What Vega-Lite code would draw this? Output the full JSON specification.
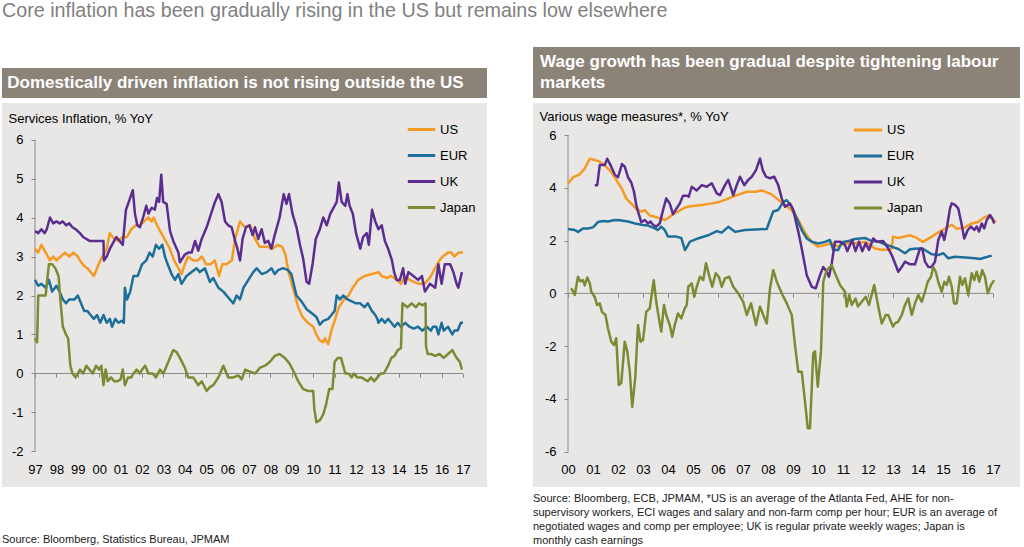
{
"$schema": "https://vega.github.io/schema/vega-lite/v6.json",
"background": "white",
"padding": {"left": 2, "top": 1, "right": 0, "bottom": 0},
"title": {"text": "Core inflation has been gradually rising in the US but remains low elsewhere", "anchor": "start", "fontSize": 19.7, "font": "Liberation Sans, Arial, sans-serif", "fontWeight": "normal", "color": "#7f7f7f", "offset": 26},
"config": {"view": {"stroke": null}, "axis": {"labelFont": "Liberation Sans", "labelFontSize": 13, "labelColor": "#000", "tickColor": "#8a8a8a", "domainColor": "#8a8a8a", "grid": false, "titleFont": "Liberation Sans"}, "legend": {"labelFont": "Liberation Sans"}},
"spacing": 5,
"resolve": {"scale": {"color": "independent", "x": "independent", "y": "independent"}, "legend": {"color": "independent"}},
"datasets": {
"L": [
{"s":"US","t":1997.0,"v":3.2},{"s":"US","t":1997.15,"v":3.1},{"s":"US","t":1997.3,"v":3.3},{"s":"US","t":1997.5,"v":3.1},{"s":"US","t":1997.7,"v":2.9},{"s":"US","t":1997.85,"v":3.0},{"s":"US","t":1998.0,"v":2.9},{"s":"US","t":1998.2,"v":3.0},{"s":"US","t":1998.4,"v":3.1},{"s":"US","t":1998.6,"v":3.0},{"s":"US","t":1998.8,"v":3.1},{"s":"US","t":1999.0,"v":3.0},{"s":"US","t":1999.1,"v":2.9},{"s":"US","t":1999.3,"v":2.75},{"s":"US","t":1999.45,"v":2.7},{"s":"US","t":1999.6,"v":2.6},{"s":"US","t":1999.75,"v":2.5},{"s":"US","t":1999.9,"v":2.7},{"s":"US","t":2000.05,"v":2.9},{"s":"US","t":2000.2,"v":3.05},{"s":"US","t":2000.35,"v":3.2},{"s":"US","t":2000.5,"v":3.6},{"s":"US","t":2000.7,"v":3.45},{"s":"US","t":2000.9,"v":3.4},{"s":"US","t":2001.1,"v":3.5},{"s":"US","t":2001.3,"v":3.5},{"s":"US","t":2001.5,"v":3.7},{"s":"US","t":2001.7,"v":3.8},{"s":"US","t":2001.9,"v":3.8},{"s":"US","t":2002.1,"v":3.9},{"s":"US","t":2002.3,"v":4.0},{"s":"US","t":2002.45,"v":3.9},{"s":"US","t":2002.55,"v":4.0},{"s":"US","t":2002.7,"v":3.8},{"s":"US","t":2002.9,"v":3.6},{"s":"US","t":2003.1,"v":3.4},{"s":"US","t":2003.3,"v":3.2},{"s":"US","t":2003.5,"v":2.9},{"s":"US","t":2003.7,"v":2.7},{"s":"US","t":2003.85,"v":2.55},{"s":"US","t":2004.0,"v":2.8},{"s":"US","t":2004.15,"v":3.0},{"s":"US","t":2004.4,"v":2.9},{"s":"US","t":2004.6,"v":2.9},{"s":"US","t":2004.8,"v":3.0},{"s":"US","t":2005.0,"v":2.8},{"s":"US","t":2005.2,"v":2.8},{"s":"US","t":2005.4,"v":2.9},{"s":"US","t":2005.6,"v":2.5},{"s":"US","t":2005.75,"v":2.8},{"s":"US","t":2005.95,"v":2.8},{"s":"US","t":2006.2,"v":2.9},{"s":"US","t":2006.35,"v":3.45},{"s":"US","t":2006.58,"v":3.9},{"s":"US","t":2006.8,"v":3.75},{"s":"US","t":2007.05,"v":3.8},{"s":"US","t":2007.28,"v":3.45},{"s":"US","t":2007.5,"v":3.25},{"s":"US","t":2007.85,"v":3.25},{"s":"US","t":2008.1,"v":3.2},{"s":"US","t":2008.35,"v":3.3},{"s":"US","t":2008.55,"v":3.25},{"s":"US","t":2008.7,"v":3.05},{"s":"US","t":2008.85,"v":2.6},{"s":"US","t":2009.05,"v":2.2},{"s":"US","t":2009.3,"v":1.7},{"s":"US","t":2009.5,"v":1.45},{"s":"US","t":2009.75,"v":1.3},{"s":"US","t":2010.0,"v":1.2},{"s":"US","t":2010.15,"v":1.0},{"s":"US","t":2010.3,"v":0.85},{"s":"US","t":2010.45,"v":0.8},{"s":"US","t":2010.55,"v":0.9},{"s":"US","t":2010.7,"v":0.75},{"s":"US","t":2010.85,"v":1.1},{"s":"US","t":2011.0,"v":1.35},{"s":"US","t":2011.2,"v":1.7},{"s":"US","t":2011.45,"v":1.9},{"s":"US","t":2011.65,"v":2.0},{"s":"US","t":2011.85,"v":2.2},{"s":"US","t":2012.1,"v":2.4},{"s":"US","t":2012.4,"v":2.5},{"s":"US","t":2012.75,"v":2.55},{"s":"US","t":2013.05,"v":2.6},{"s":"US","t":2013.2,"v":2.5},{"s":"US","t":2013.45,"v":2.45},{"s":"US","t":2013.65,"v":2.5},{"s":"US","t":2013.9,"v":2.4},{"s":"US","t":2014.1,"v":2.3},{"s":"US","t":2014.3,"v":2.5},{"s":"US","t":2014.5,"v":2.4},{"s":"US","t":2014.7,"v":2.35},{"s":"US","t":2014.95,"v":2.3},{"s":"US","t":2015.2,"v":2.3},{"s":"US","t":2015.45,"v":2.45},{"s":"US","t":2015.7,"v":2.7},{"s":"US","t":2015.9,"v":2.9},{"s":"US","t":2016.05,"v":3.0},{"s":"US","t":2016.3,"v":3.1},{"s":"US","t":2016.45,"v":3.1},{"s":"US","t":2016.6,"v":3.0},{"s":"US","t":2016.8,"v":3.1},{"s":"US","t":2017.0,"v":3.1},
{"s":"EUR","t":1997.0,"v":2.4},{"s":"EUR","t":1997.15,"v":2.25},{"s":"EUR","t":1997.3,"v":2.3},{"s":"EUR","t":1997.5,"v":2.2},{"s":"EUR","t":1997.65,"v":2.4},{"s":"EUR","t":1997.8,"v":2.1},{"s":"EUR","t":1998.0,"v":2.25},{"s":"EUR","t":1998.15,"v":2.1},{"s":"EUR","t":1998.3,"v":1.9},{"s":"EUR","t":1998.45,"v":1.8},{"s":"EUR","t":1998.6,"v":1.9},{"s":"EUR","t":1998.85,"v":1.9},{"s":"EUR","t":1999.0,"v":2.0},{"s":"EUR","t":1999.15,"v":1.8},{"s":"EUR","t":1999.3,"v":1.6},{"s":"EUR","t":1999.45,"v":1.6},{"s":"EUR","t":1999.6,"v":1.5},{"s":"EUR","t":1999.75,"v":1.4},{"s":"EUR","t":1999.9,"v":1.5},{"s":"EUR","t":2000.05,"v":1.3},{"s":"EUR","t":2000.2,"v":1.5},{"s":"EUR","t":2000.35,"v":1.3},{"s":"EUR","t":2000.5,"v":1.4},{"s":"EUR","t":2000.6,"v":1.2},{"s":"EUR","t":2000.75,"v":1.4},{"s":"EUR","t":2000.9,"v":1.3},{"s":"EUR","t":2001.05,"v":1.35},{"s":"EUR","t":2001.15,"v":1.3},{"s":"EUR","t":2001.2,"v":2.2},{"s":"EUR","t":2001.3,"v":1.9},{"s":"EUR","t":2001.45,"v":2.1},{"s":"EUR","t":2001.6,"v":2.5},{"s":"EUR","t":2001.8,"v":2.5},{"s":"EUR","t":2002.0,"v":2.8},{"s":"EUR","t":2002.2,"v":2.9},{"s":"EUR","t":2002.35,"v":3.1},{"s":"EUR","t":2002.5,"v":3.0},{"s":"EUR","t":2002.65,"v":3.3},{"s":"EUR","t":2002.8,"v":3.2},{"s":"EUR","t":2002.95,"v":3.3},{"s":"EUR","t":2003.07,"v":3.0},{"s":"EUR","t":2003.2,"v":2.8},{"s":"EUR","t":2003.38,"v":2.55},{"s":"EUR","t":2003.54,"v":2.4},{"s":"EUR","t":2003.7,"v":2.55},{"s":"EUR","t":2003.85,"v":2.3},{"s":"EUR","t":2004.08,"v":2.5},{"s":"EUR","t":2004.32,"v":2.6},{"s":"EUR","t":2004.55,"v":2.7},{"s":"EUR","t":2004.7,"v":2.6},{"s":"EUR","t":2004.94,"v":2.7},{"s":"EUR","t":2005.17,"v":2.35},{"s":"EUR","t":2005.33,"v":2.45},{"s":"EUR","t":2005.57,"v":2.2},{"s":"EUR","t":2005.8,"v":2.1},{"s":"EUR","t":2006.03,"v":1.95},{"s":"EUR","t":2006.27,"v":1.8},{"s":"EUR","t":2006.42,"v":2.0},{"s":"EUR","t":2006.58,"v":1.9},{"s":"EUR","t":2006.74,"v":2.2},{"s":"EUR","t":2006.97,"v":2.4},{"s":"EUR","t":2007.2,"v":2.6},{"s":"EUR","t":2007.36,"v":2.7},{"s":"EUR","t":2007.59,"v":2.55},{"s":"EUR","t":2007.83,"v":2.6},{"s":"EUR","t":2008.05,"v":2.7},{"s":"EUR","t":2008.2,"v":2.55},{"s":"EUR","t":2008.36,"v":2.65},{"s":"EUR","t":2008.59,"v":2.7},{"s":"EUR","t":2008.82,"v":2.65},{"s":"EUR","t":2008.98,"v":2.55},{"s":"EUR","t":2009.13,"v":2.2},{"s":"EUR","t":2009.22,"v":2.0},{"s":"EUR","t":2009.45,"v":1.85},{"s":"EUR","t":2009.69,"v":1.65},{"s":"EUR","t":2009.92,"v":1.55},{"s":"EUR","t":2010.15,"v":1.45},{"s":"EUR","t":2010.31,"v":1.25},{"s":"EUR","t":2010.47,"v":1.35},{"s":"EUR","t":2010.7,"v":1.4},{"s":"EUR","t":2010.85,"v":1.5},{"s":"EUR","t":2011.0,"v":1.6},{"s":"EUR","t":2011.1,"v":2.0},{"s":"EUR","t":2011.25,"v":1.9},{"s":"EUR","t":2011.4,"v":2.0},{"s":"EUR","t":2011.6,"v":1.9},{"s":"EUR","t":2011.8,"v":1.85},{"s":"EUR","t":2012.0,"v":1.8},{"s":"EUR","t":2012.2,"v":1.8},{"s":"EUR","t":2012.4,"v":1.7},{"s":"EUR","t":2012.55,"v":1.8},{"s":"EUR","t":2012.75,"v":1.6},{"s":"EUR","t":2012.9,"v":1.5},{"s":"EUR","t":2013.0,"v":1.4},{"s":"EUR","t":2013.05,"v":1.3},{"s":"EUR","t":2013.2,"v":1.4},{"s":"EUR","t":2013.35,"v":1.3},{"s":"EUR","t":2013.5,"v":1.4},{"s":"EUR","t":2013.65,"v":1.3},{"s":"EUR","t":2013.8,"v":1.2},{"s":"EUR","t":2013.95,"v":1.3},{"s":"EUR","t":2014.1,"v":1.2},{"s":"EUR","t":2014.3,"v":1.3},{"s":"EUR","t":2014.5,"v":1.2},{"s":"EUR","t":2014.7,"v":1.15},{"s":"EUR","t":2014.9,"v":1.2},{"s":"EUR","t":2015.1,"v":1.1},{"s":"EUR","t":2015.3,"v":1.2},{"s":"EUR","t":2015.5,"v":1.1},{"s":"EUR","t":2015.6,"v":1.2},{"s":"EUR","t":2015.75,"v":1.2},{"s":"EUR","t":2015.85,"v":1.0},{"s":"EUR","t":2016.0,"v":1.3},{"s":"EUR","t":2016.1,"v":1.1},{"s":"EUR","t":2016.3,"v":1.2},{"s":"EUR","t":2016.5,"v":1.0},{"s":"EUR","t":2016.6,"v":1.1},{"s":"EUR","t":2016.75,"v":1.1},{"s":"EUR","t":2016.9,"v":1.3},{"s":"EUR","t":2017.0,"v":1.3},
{"s":"UK","t":1997.0,"v":3.65},{"s":"UK","t":1997.15,"v":3.6},{"s":"UK","t":1997.3,"v":3.7},{"s":"UK","t":1997.45,"v":3.6},{"s":"UK","t":1997.55,"v":3.7},{"s":"UK","t":1997.7,"v":4.0},{"s":"UK","t":1997.85,"v":3.85},{"s":"UK","t":1998.0,"v":3.9},{"s":"UK","t":1998.15,"v":3.85},{"s":"UK","t":1998.3,"v":3.9},{"s":"UK","t":1998.45,"v":3.8},{"s":"UK","t":1998.6,"v":3.85},{"s":"UK","t":1998.75,"v":3.75},{"s":"UK","t":1998.9,"v":3.7},{"s":"UK","t":1999.1,"v":3.6},{"s":"UK","t":1999.25,"v":3.5},{"s":"UK","t":1999.4,"v":3.45},{"s":"UK","t":1999.55,"v":3.4},{"s":"UK","t":1999.8,"v":3.4},{"s":"UK","t":2000.0,"v":3.4},{"s":"UK","t":2000.2,"v":3.4},{"s":"UK","t":2000.22,"v":2.9},{"s":"UK","t":2000.35,"v":3.0},{"s":"UK","t":2000.5,"v":3.2},{"s":"UK","t":2000.7,"v":3.4},{"s":"UK","t":2000.8,"v":3.5},{"s":"UK","t":2000.95,"v":3.4},{"s":"UK","t":2001.1,"v":3.3},{"s":"UK","t":2001.25,"v":4.2},{"s":"UK","t":2001.35,"v":4.35},{"s":"UK","t":2001.57,"v":4.7},{"s":"UK","t":2001.67,"v":4.1},{"s":"UK","t":2001.78,"v":3.8},{"s":"UK","t":2001.9,"v":3.75},{"s":"UK","t":2002.05,"v":4.0},{"s":"UK","t":2002.2,"v":4.3},{"s":"UK","t":2002.3,"v":4.1},{"s":"UK","t":2002.45,"v":4.25},{"s":"UK","t":2002.6,"v":4.2},{"s":"UK","t":2002.7,"v":4.5},{"s":"UK","t":2002.8,"v":4.4},{"s":"UK","t":2002.9,"v":5.1},{"s":"UK","t":2002.99,"v":4.4},{"s":"UK","t":2003.15,"v":4.35},{"s":"UK","t":2003.31,"v":3.65},{"s":"UK","t":2003.46,"v":3.4},{"s":"UK","t":2003.62,"v":3.2},{"s":"UK","t":2003.7,"v":3.1},{"s":"UK","t":2003.77,"v":2.85},{"s":"UK","t":2004.0,"v":3.05},{"s":"UK","t":2004.16,"v":3.1},{"s":"UK","t":2004.32,"v":3.1},{"s":"UK","t":2004.48,"v":3.4},{"s":"UK","t":2004.63,"v":3.15},{"s":"UK","t":2004.79,"v":3.45},{"s":"UK","t":2005.02,"v":3.75},{"s":"UK","t":2005.26,"v":4.15},{"s":"UK","t":2005.41,"v":4.4},{"s":"UK","t":2005.57,"v":4.6},{"s":"UK","t":2005.72,"v":4.4},{"s":"UK","t":2005.88,"v":3.9},{"s":"UK","t":2006.03,"v":3.8},{"s":"UK","t":2006.19,"v":3.75},{"s":"UK","t":2006.35,"v":3.4},{"s":"UK","t":2006.46,"v":3.2},{"s":"UK","t":2006.58,"v":2.9},{"s":"UK","t":2006.7,"v":3.45},{"s":"UK","t":2006.86,"v":3.75},{"s":"UK","t":2007.02,"v":3.8},{"s":"UK","t":2007.17,"v":3.55},{"s":"UK","t":2007.28,"v":3.75},{"s":"UK","t":2007.43,"v":3.45},{"s":"UK","t":2007.59,"v":3.7},{"s":"UK","t":2007.74,"v":3.35},{"s":"UK","t":2007.9,"v":3.4},{"s":"UK","t":2008.05,"v":3.2},{"s":"UK","t":2008.2,"v":3.55},{"s":"UK","t":2008.43,"v":4.0},{"s":"UK","t":2008.62,"v":4.6},{"s":"UK","t":2008.75,"v":4.35},{"s":"UK","t":2008.87,"v":4.6},{"s":"UK","t":2009.03,"v":4.1},{"s":"UK","t":2009.22,"v":3.75},{"s":"UK","t":2009.38,"v":3.3},{"s":"UK","t":2009.53,"v":2.95},{"s":"UK","t":2009.69,"v":2.35},{"s":"UK","t":2009.81,"v":2.3},{"s":"UK","t":2009.97,"v":2.8},{"s":"UK","t":2010.12,"v":3.45},{"s":"UK","t":2010.31,"v":3.7},{"s":"UK","t":2010.47,"v":4.0},{"s":"UK","t":2010.63,"v":3.8},{"s":"UK","t":2010.8,"v":4.1},{"s":"UK","t":2011.0,"v":4.3},{"s":"UK","t":2011.1,"v":4.4},{"s":"UK","t":2011.2,"v":4.9},{"s":"UK","t":2011.33,"v":4.4},{"s":"UK","t":2011.5,"v":4.3},{"s":"UK","t":2011.6,"v":4.6},{"s":"UK","t":2011.7,"v":4.3},{"s":"UK","t":2011.85,"v":4.1},{"s":"UK","t":2012.0,"v":3.6},{"s":"UK","t":2012.2,"v":3.2},{"s":"UK","t":2012.33,"v":3.5},{"s":"UK","t":2012.5,"v":3.6},{"s":"UK","t":2012.6,"v":3.3},{"s":"UK","t":2012.75,"v":4.2},{"s":"UK","t":2012.9,"v":3.9},{"s":"UK","t":2013.05,"v":3.7},{"s":"UK","t":2013.2,"v":3.8},{"s":"UK","t":2013.35,"v":3.4},{"s":"UK","t":2013.5,"v":3.2},{"s":"UK","t":2013.68,"v":2.9},{"s":"UK","t":2013.78,"v":2.6},{"s":"UK","t":2013.9,"v":2.4},{"s":"UK","t":2014.05,"v":2.4},{"s":"UK","t":2014.2,"v":2.7},{"s":"UK","t":2014.3,"v":2.3},{"s":"UK","t":2014.45,"v":2.6},{"s":"UK","t":2014.68,"v":2.5},{"s":"UK","t":2014.9,"v":2.4},{"s":"UK","t":2015.08,"v":2.5},{"s":"UK","t":2015.22,"v":2.1},{"s":"UK","t":2015.45,"v":2.3},{"s":"UK","t":2015.7,"v":2.2},{"s":"UK","t":2015.85,"v":2.8},{"s":"UK","t":2016.0,"v":2.3},{"s":"UK","t":2016.15,"v":2.8},{"s":"UK","t":2016.4,"v":2.8},{"s":"UK","t":2016.55,"v":2.6},{"s":"UK","t":2016.7,"v":2.3},{"s":"UK","t":2016.78,"v":2.2},{"s":"UK","t":2016.95,"v":2.6},
{"s":"Japan","t":1997.0,"v":0.9},{"s":"Japan","t":1997.1,"v":0.8},{"s":"Japan","t":1997.15,"v":2.0},{"s":"Japan","t":1997.3,"v":2.0},{"s":"Japan","t":1997.5,"v":2.0},{"s":"Japan","t":1997.55,"v":2.3},{"s":"Japan","t":1997.65,"v":2.8},{"s":"Japan","t":1997.8,"v":2.8},{"s":"Japan","t":1997.95,"v":2.7},{"s":"Japan","t":1998.1,"v":2.5},{"s":"Japan","t":1998.2,"v":1.8},{"s":"Japan","t":1998.3,"v":1.2},{"s":"Japan","t":1998.45,"v":1.0},{"s":"Japan","t":1998.55,"v":0.9},{"s":"Japan","t":1998.65,"v":0.2},{"s":"Japan","t":1998.75,"v":0.0},{"s":"Japan","t":1998.9,"v":-0.1},{"s":"Japan","t":1999.1,"v":0.1},{"s":"Japan","t":1999.25,"v":0.0},{"s":"Japan","t":1999.4,"v":0.2},{"s":"Japan","t":1999.55,"v":0.1},{"s":"Japan","t":1999.7,"v":0.0},{"s":"Japan","t":1999.85,"v":0.2},{"s":"Japan","t":2000.0,"v":0.1},{"s":"Japan","t":2000.1,"v":0.2},{"s":"Japan","t":2000.2,"v":-0.3},{"s":"Japan","t":2000.3,"v":0.1},{"s":"Japan","t":2000.4,"v":-0.2},{"s":"Japan","t":2000.55,"v":-0.1},{"s":"Japan","t":2000.7,"v":-0.2},{"s":"Japan","t":2000.85,"v":-0.2},{"s":"Japan","t":2001.0,"v":-0.15},{"s":"Japan","t":2001.1,"v":0.1},{"s":"Japan","t":2001.2,"v":-0.3},{"s":"Japan","t":2001.35,"v":-0.1},{"s":"Japan","t":2001.5,"v":-0.1},{"s":"Japan","t":2001.6,"v":0.0},{"s":"Japan","t":2001.75,"v":0.1},{"s":"Japan","t":2001.9,"v":0.0},{"s":"Japan","t":2002.0,"v":0.1},{"s":"Japan","t":2002.15,"v":0.2},{"s":"Japan","t":2002.3,"v":0.0},{"s":"Japan","t":2002.5,"v":0.0},{"s":"Japan","t":2002.65,"v":-0.1},{"s":"Japan","t":2002.84,"v":0.1},{"s":"Japan","t":2003.0,"v":0.0},{"s":"Japan","t":2003.23,"v":0.3},{"s":"Japan","t":2003.46,"v":0.6},{"s":"Japan","t":2003.62,"v":0.55},{"s":"Japan","t":2003.77,"v":0.4},{"s":"Japan","t":2004.0,"v":0.15},{"s":"Japan","t":2004.16,"v":-0.1},{"s":"Japan","t":2004.39,"v":-0.1},{"s":"Japan","t":2004.63,"v":-0.3},{"s":"Japan","t":2004.79,"v":-0.2},{"s":"Japan","t":2005.02,"v":-0.45},{"s":"Japan","t":2005.17,"v":-0.35},{"s":"Japan","t":2005.33,"v":-0.3},{"s":"Japan","t":2005.57,"v":-0.1},{"s":"Japan","t":2005.8,"v":0.2},{"s":"Japan","t":2006.03,"v":-0.1},{"s":"Japan","t":2006.27,"v":-0.1},{"s":"Japan","t":2006.5,"v":-0.05},{"s":"Japan","t":2006.66,"v":-0.15},{"s":"Japan","t":2006.82,"v":0.1},{"s":"Japan","t":2007.05,"v":0.05},{"s":"Japan","t":2007.28,"v":0.0},{"s":"Japan","t":2007.52,"v":0.15},{"s":"Japan","t":2007.75,"v":0.2},{"s":"Japan","t":2007.98,"v":0.3},{"s":"Japan","t":2008.2,"v":0.45},{"s":"Japan","t":2008.43,"v":0.5},{"s":"Japan","t":2008.67,"v":0.4},{"s":"Japan","t":2008.9,"v":0.25},{"s":"Japan","t":2009.13,"v":0.0},{"s":"Japan","t":2009.3,"v":-0.2},{"s":"Japan","t":2009.53,"v":-0.4},{"s":"Japan","t":2009.77,"v":-0.45},{"s":"Japan","t":2010.0,"v":-0.45},{"s":"Japan","t":2010.05,"v":-0.9},{"s":"Japan","t":2010.15,"v":-1.25},{"s":"Japan","t":2010.31,"v":-1.2},{"s":"Japan","t":2010.47,"v":-1.05},{"s":"Japan","t":2010.6,"v":-0.8},{"s":"Japan","t":2010.75,"v":-0.4},{"s":"Japan","t":2010.9,"v":-0.4},{"s":"Japan","t":2011.0,"v":0.3},{"s":"Japan","t":2011.15,"v":0.4},{"s":"Japan","t":2011.3,"v":0.4},{"s":"Japan","t":2011.4,"v":0.2},{"s":"Japan","t":2011.5,"v":0.0},{"s":"Japan","t":2011.65,"v":0.0},{"s":"Japan","t":2011.8,"v":-0.1},{"s":"Japan","t":2011.9,"v":0.0},{"s":"Japan","t":2012.05,"v":-0.1},{"s":"Japan","t":2012.25,"v":-0.1},{"s":"Japan","t":2012.4,"v":-0.15},{"s":"Japan","t":2012.55,"v":-0.2},{"s":"Japan","t":2012.7,"v":-0.1},{"s":"Japan","t":2012.85,"v":-0.2},{"s":"Japan","t":2013.0,"v":-0.1},{"s":"Japan","t":2013.15,"v":0.0},{"s":"Japan","t":2013.3,"v":0.0},{"s":"Japan","t":2013.5,"v":0.2},{"s":"Japan","t":2013.65,"v":0.4},{"s":"Japan","t":2013.8,"v":0.45},{"s":"Japan","t":2013.95,"v":0.6},{"s":"Japan","t":2014.1,"v":0.65},{"s":"Japan","t":2014.17,"v":1.8},{"s":"Japan","t":2014.4,"v":1.7},{"s":"Japan","t":2014.6,"v":1.8},{"s":"Japan","t":2014.8,"v":1.7},{"s":"Japan","t":2014.95,"v":1.8},{"s":"Japan","t":2015.1,"v":1.75},{"s":"Japan","t":2015.25,"v":1.8},{"s":"Japan","t":2015.27,"v":0.7},{"s":"Japan","t":2015.35,"v":0.5},{"s":"Japan","t":2015.5,"v":0.5},{"s":"Japan","t":2015.7,"v":0.45},{"s":"Japan","t":2015.9,"v":0.5},{"s":"Japan","t":2016.1,"v":0.4},{"s":"Japan","t":2016.3,"v":0.5},{"s":"Japan","t":2016.5,"v":0.6},{"s":"Japan","t":2016.7,"v":0.4},{"s":"Japan","t":2016.85,"v":0.3},{"s":"Japan","t":2016.95,"v":0.1}
],
"R": [
{"s":"US","t":2000.0,"v":4.15},{"s":"US","t":2000.2,"v":4.4},{"s":"US","t":2000.45,"v":4.5},{"s":"US","t":2000.65,"v":4.7},{"s":"US","t":2000.87,"v":5.1},{"s":"US","t":2001.07,"v":5.05},{"s":"US","t":2001.25,"v":5.0},{"s":"US","t":2001.47,"v":4.85},{"s":"US","t":2001.73,"v":4.6},{"s":"US","t":2001.93,"v":4.3},{"s":"US","t":2002.13,"v":4.0},{"s":"US","t":2002.33,"v":3.6},{"s":"US","t":2002.53,"v":3.4},{"s":"US","t":2002.73,"v":3.2},{"s":"US","t":2002.93,"v":3.1},{"s":"US","t":2003.07,"v":3.15},{"s":"US","t":2003.27,"v":2.95},{"s":"US","t":2003.47,"v":2.9},{"s":"US","t":2003.67,"v":2.85},{"s":"US","t":2003.87,"v":2.78},{"s":"US","t":2004.0,"v":2.85},{"s":"US","t":2004.2,"v":3.0},{"s":"US","t":2004.4,"v":3.1},{"s":"US","t":2004.67,"v":3.25},{"s":"US","t":2004.9,"v":3.3},{"s":"US","t":2005.35,"v":3.35},{"s":"US","t":2005.7,"v":3.4},{"s":"US","t":2006.0,"v":3.45},{"s":"US","t":2006.3,"v":3.55},{"s":"US","t":2006.55,"v":3.65},{"s":"US","t":2006.85,"v":3.75},{"s":"US","t":2007.15,"v":3.85},{"s":"US","t":2007.5,"v":3.85},{"s":"US","t":2007.75,"v":3.9},{"s":"US","t":2008.15,"v":3.75},{"s":"US","t":2008.4,"v":3.55},{"s":"US","t":2008.68,"v":3.35},{"s":"US","t":2008.95,"v":3.15},{"s":"US","t":2009.2,"v":2.8},{"s":"US","t":2009.48,"v":2.3},{"s":"US","t":2009.75,"v":1.95},{"s":"US","t":2010.0,"v":1.77},{"s":"US","t":2010.28,"v":1.83},{"s":"US","t":2010.55,"v":1.9},{"s":"US","t":2010.8,"v":1.77},{"s":"US","t":2011.08,"v":1.9},{"s":"US","t":2011.5,"v":1.9},{"s":"US","t":2011.9,"v":1.95},{"s":"US","t":2012.28,"v":1.7},{"s":"US","t":2012.55,"v":1.65},{"s":"US","t":2012.8,"v":1.65},{"s":"US","t":2012.95,"v":1.7},{"s":"US","t":2013.0,"v":2.15},{"s":"US","t":2013.2,"v":2.1},{"s":"US","t":2013.68,"v":2.2},{"s":"US","t":2013.95,"v":2.1},{"s":"US","t":2014.2,"v":1.95},{"s":"US","t":2014.55,"v":2.15},{"s":"US","t":2014.88,"v":2.35},{"s":"US","t":2015.08,"v":2.45},{"s":"US","t":2015.35,"v":2.6},{"s":"US","t":2015.55,"v":2.45},{"s":"US","t":2015.88,"v":2.5},{"s":"US","t":2016.15,"v":2.65},{"s":"US","t":2016.4,"v":2.7},{"s":"US","t":2016.6,"v":2.85},{"s":"US","t":2016.8,"v":2.95},{"s":"US","t":2017.0,"v":2.8},{"s":"US","t":2017.12,"v":2.7},
{"s":"EUR","t":2000.0,"v":2.44},{"s":"EUR","t":2000.27,"v":2.4},{"s":"EUR","t":2000.4,"v":2.33},{"s":"EUR","t":2000.6,"v":2.46},{"s":"EUR","t":2000.8,"v":2.46},{"s":"EUR","t":2001.0,"v":2.5},{"s":"EUR","t":2001.2,"v":2.7},{"s":"EUR","t":2001.4,"v":2.74},{"s":"EUR","t":2001.6,"v":2.72},{"s":"EUR","t":2001.87,"v":2.78},{"s":"EUR","t":2002.07,"v":2.77},{"s":"EUR","t":2002.4,"v":2.72},{"s":"EUR","t":2002.67,"v":2.65},{"s":"EUR","t":2003.0,"v":2.59},{"s":"EUR","t":2003.2,"v":2.57},{"s":"EUR","t":2003.47,"v":2.46},{"s":"EUR","t":2003.6,"v":2.4},{"s":"EUR","t":2003.73,"v":2.53},{"s":"EUR","t":2003.87,"v":2.4},{"s":"EUR","t":2004.0,"v":2.15},{"s":"EUR","t":2004.33,"v":2.15},{"s":"EUR","t":2004.53,"v":2.1},{"s":"EUR","t":2004.68,"v":1.64},{"s":"EUR","t":2004.88,"v":1.96},{"s":"EUR","t":2005.2,"v":2.08},{"s":"EUR","t":2005.6,"v":2.2},{"s":"EUR","t":2005.95,"v":2.36},{"s":"EUR","t":2006.15,"v":2.3},{"s":"EUR","t":2006.41,"v":2.52},{"s":"EUR","t":2006.68,"v":2.33},{"s":"EUR","t":2007.08,"v":2.4},{"s":"EUR","t":2007.48,"v":2.42},{"s":"EUR","t":2007.95,"v":2.44},{"s":"EUR","t":2008.08,"v":2.78},{"s":"EUR","t":2008.21,"v":3.1},{"s":"EUR","t":2008.41,"v":3.16},{"s":"EUR","t":2008.61,"v":3.47},{"s":"EUR","t":2008.75,"v":3.53},{"s":"EUR","t":2008.95,"v":3.28},{"s":"EUR","t":2009.15,"v":2.84},{"s":"EUR","t":2009.35,"v":2.4},{"s":"EUR","t":2009.55,"v":2.08},{"s":"EUR","t":2009.75,"v":1.96},{"s":"EUR","t":2010.01,"v":1.89},{"s":"EUR","t":2010.28,"v":1.95},{"s":"EUR","t":2010.48,"v":2.02},{"s":"EUR","t":2010.61,"v":1.64},{"s":"EUR","t":2010.81,"v":1.64},{"s":"EUR","t":2010.95,"v":1.94},{"s":"EUR","t":2011.21,"v":1.98},{"s":"EUR","t":2011.48,"v":2.06},{"s":"EUR","t":2011.88,"v":2.1},{"s":"EUR","t":2012.15,"v":1.98},{"s":"EUR","t":2012.41,"v":1.96},{"s":"EUR","t":2012.68,"v":1.86},{"s":"EUR","t":2012.95,"v":1.77},{"s":"EUR","t":2013.21,"v":1.68},{"s":"EUR","t":2013.48,"v":1.52},{"s":"EUR","t":2013.68,"v":1.67},{"s":"EUR","t":2013.95,"v":1.7},{"s":"EUR","t":2014.21,"v":1.68},{"s":"EUR","t":2014.55,"v":1.48},{"s":"EUR","t":2014.81,"v":1.45},{"s":"EUR","t":2015.01,"v":1.52},{"s":"EUR","t":2015.21,"v":1.33},{"s":"EUR","t":2015.48,"v":1.39},{"s":"EUR","t":2015.88,"v":1.36},{"s":"EUR","t":2016.28,"v":1.33},{"s":"EUR","t":2016.48,"v":1.3},{"s":"EUR","t":2016.68,"v":1.36},{"s":"EUR","t":2016.95,"v":1.43},
{"s":"UK","t":2001.07,"v":4.1},{"s":"UK","t":2001.17,"v":4.1},{"s":"UK","t":2001.27,"v":4.86},{"s":"UK","t":2001.47,"v":4.86},{"s":"UK","t":2001.57,"v":5.1},{"s":"UK","t":2001.73,"v":4.8},{"s":"UK","t":2001.87,"v":4.5},{"s":"UK","t":2002.0,"v":4.4},{"s":"UK","t":2002.16,"v":4.9},{"s":"UK","t":2002.27,"v":4.8},{"s":"UK","t":2002.4,"v":4.4},{"s":"UK","t":2002.53,"v":4.2},{"s":"UK","t":2002.64,"v":3.85},{"s":"UK","t":2002.73,"v":3.35},{"s":"UK","t":2002.8,"v":3.1},{"s":"UK","t":2002.93,"v":2.7},{"s":"UK","t":2003.07,"v":2.78},{"s":"UK","t":2003.2,"v":2.65},{"s":"UK","t":2003.3,"v":2.72},{"s":"UK","t":2003.4,"v":2.6},{"s":"UK","t":2003.53,"v":2.53},{"s":"UK","t":2003.67,"v":2.65},{"s":"UK","t":2003.8,"v":3.15},{"s":"UK","t":2003.93,"v":3.6},{"s":"UK","t":2004.07,"v":3.4},{"s":"UK","t":2004.2,"v":3.0},{"s":"UK","t":2004.33,"v":3.2},{"s":"UK","t":2004.47,"v":3.4},{"s":"UK","t":2004.6,"v":3.7},{"s":"UK","t":2004.77,"v":3.7},{"s":"UK","t":2004.83,"v":3.66},{"s":"UK","t":2004.95,"v":4.04},{"s":"UK","t":2005.15,"v":3.9},{"s":"UK","t":2005.35,"v":4.1},{"s":"UK","t":2005.55,"v":4.04},{"s":"UK","t":2005.75,"v":4.17},{"s":"UK","t":2005.95,"v":3.79},{"s":"UK","t":2006.08,"v":3.72},{"s":"UK","t":2006.28,"v":4.1},{"s":"UK","t":2006.41,"v":4.3},{"s":"UK","t":2006.61,"v":3.72},{"s":"UK","t":2006.75,"v":4.1},{"s":"UK","t":2006.88,"v":4.42},{"s":"UK","t":2007.05,"v":4.1},{"s":"UK","t":2007.21,"v":4.3},{"s":"UK","t":2007.35,"v":4.42},{"s":"UK","t":2007.52,"v":4.67},{"s":"UK","t":2007.68,"v":5.11},{"s":"UK","t":2007.79,"v":4.67},{"s":"UK","t":2007.92,"v":4.42},{"s":"UK","t":2008.08,"v":4.36},{"s":"UK","t":2008.25,"v":4.42},{"s":"UK","t":2008.41,"v":4.1},{"s":"UK","t":2008.55,"v":3.6},{"s":"UK","t":2008.68,"v":3.28},{"s":"UK","t":2008.88,"v":3.4},{"s":"UK","t":2009.01,"v":3.16},{"s":"UK","t":2009.21,"v":2.34},{"s":"UK","t":2009.35,"v":1.7},{"s":"UK","t":2009.55,"v":0.69},{"s":"UK","t":2009.75,"v":0.25},{"s":"UK","t":2009.91,"v":0.19},{"s":"UK","t":2010.08,"v":0.69},{"s":"UK","t":2010.21,"v":1.0},{"s":"UK","t":2010.35,"v":0.82},{"s":"UK","t":2010.44,"v":0.63},{"s":"UK","t":2010.55,"v":1.14},{"s":"UK","t":2010.68,"v":1.96},{"s":"UK","t":2010.88,"v":1.96},{"s":"UK","t":2011.08,"v":1.83},{"s":"UK","t":2011.17,"v":1.6},{"s":"UK","t":2011.37,"v":2.02},{"s":"UK","t":2011.5,"v":1.6},{"s":"UK","t":2011.64,"v":1.96},{"s":"UK","t":2011.77,"v":1.6},{"s":"UK","t":2011.91,"v":1.9},{"s":"UK","t":2012.04,"v":1.64},{"s":"UK","t":2012.21,"v":2.08},{"s":"UK","t":2012.35,"v":1.96},{"s":"UK","t":2012.61,"v":1.98},{"s":"UK","t":2012.81,"v":1.7},{"s":"UK","t":2012.95,"v":1.45},{"s":"UK","t":2013.08,"v":1.14},{"s":"UK","t":2013.21,"v":0.82},{"s":"UK","t":2013.35,"v":1.0},{"s":"UK","t":2013.48,"v":1.2},{"s":"UK","t":2013.68,"v":1.1},{"s":"UK","t":2013.88,"v":1.1},{"s":"UK","t":2014.08,"v":1.7},{"s":"UK","t":2014.17,"v":1.7},{"s":"UK","t":2014.28,"v":1.2},{"s":"UK","t":2014.41,"v":1.0},{"s":"UK","t":2014.55,"v":1.0},{"s":"UK","t":2014.68,"v":1.2},{"s":"UK","t":2014.81,"v":2.02},{"s":"UK","t":2014.95,"v":2.34},{"s":"UK","t":2015.05,"v":2.02},{"s":"UK","t":2015.15,"v":2.46},{"s":"UK","t":2015.28,"v":3.22},{"s":"UK","t":2015.35,"v":3.41},{"s":"UK","t":2015.48,"v":3.35},{"s":"UK","t":2015.61,"v":3.22},{"s":"UK","t":2015.75,"v":2.59},{"s":"UK","t":2015.85,"v":2.08},{"s":"UK","t":2015.99,"v":2.4},{"s":"UK","t":2016.12,"v":2.53},{"s":"UK","t":2016.25,"v":2.4},{"s":"UK","t":2016.35,"v":2.53},{"s":"UK","t":2016.44,"v":2.34},{"s":"UK","t":2016.55,"v":2.65},{"s":"UK","t":2016.65,"v":2.46},{"s":"UK","t":2016.75,"v":2.78},{"s":"UK","t":2016.88,"v":2.97},{"s":"UK","t":2016.97,"v":2.84},{"s":"UK","t":2017.05,"v":2.65},
{"s":"Japan","t":2000.13,"v":0.2},{"s":"Japan","t":2000.27,"v":-0.06},{"s":"Japan","t":2000.4,"v":0.63},{"s":"Japan","t":2000.5,"v":0.45},{"s":"Japan","t":2000.6,"v":0.5},{"s":"Japan","t":2000.67,"v":0.3},{"s":"Japan","t":2000.77,"v":0.6},{"s":"Japan","t":2000.87,"v":0.38},{"s":"Japan","t":2000.93,"v":0.06},{"s":"Japan","t":2001.07,"v":-0.13},{"s":"Japan","t":2001.16,"v":-0.44},{"s":"Japan","t":2001.27,"v":-0.38},{"s":"Japan","t":2001.36,"v":-0.7},{"s":"Japan","t":2001.5,"v":-0.82},{"s":"Japan","t":2001.6,"v":-1.33},{"s":"Japan","t":2001.73,"v":-1.83},{"s":"Japan","t":2001.84,"v":-1.96},{"s":"Japan","t":2001.93,"v":-1.7},{"s":"Japan","t":2002.03,"v":-3.47},{"s":"Japan","t":2002.13,"v":-3.4},{"s":"Japan","t":2002.27,"v":-1.83},{"s":"Japan","t":2002.37,"v":-2.2},{"s":"Japan","t":2002.47,"v":-2.97},{"s":"Japan","t":2002.57,"v":-4.3},{"s":"Japan","t":2002.69,"v":-3.2},{"s":"Japan","t":2002.8,"v":-1.2},{"s":"Japan","t":2002.9,"v":-1.83},{"s":"Japan","t":2003.0,"v":-1.77},{"s":"Japan","t":2003.13,"v":-0.7},{"s":"Japan","t":2003.27,"v":-0.57},{"s":"Japan","t":2003.43,"v":0.5},{"s":"Japan","t":2003.53,"v":-0.32},{"s":"Japan","t":2003.67,"v":-1.14},{"s":"Japan","t":2003.73,"v":-1.45},{"s":"Japan","t":2003.84,"v":-0.44},{"s":"Japan","t":2003.93,"v":-0.82},{"s":"Japan","t":2004.07,"v":-1.2},{"s":"Japan","t":2004.17,"v":-1.64},{"s":"Japan","t":2004.27,"v":-1.2},{"s":"Japan","t":2004.4,"v":-0.76},{"s":"Japan","t":2004.53,"v":-0.95},{"s":"Japan","t":2004.67,"v":-0.57},{"s":"Japan","t":2004.75,"v":-0.44},{"s":"Japan","t":2004.81,"v":0.25},{"s":"Japan","t":2004.95,"v":0.38},{"s":"Japan","t":2005.05,"v":-0.13},{"s":"Japan","t":2005.15,"v":0.25},{"s":"Japan","t":2005.28,"v":0.63},{"s":"Japan","t":2005.41,"v":0.5},{"s":"Japan","t":2005.52,"v":1.14},{"s":"Japan","t":2005.64,"v":0.69},{"s":"Japan","t":2005.77,"v":0.25},{"s":"Japan","t":2005.91,"v":0.76},{"s":"Japan","t":2006.03,"v":0.63},{"s":"Japan","t":2006.15,"v":0.25},{"s":"Japan","t":2006.28,"v":0.57},{"s":"Japan","t":2006.45,"v":0.63},{"s":"Japan","t":2006.61,"v":0.25},{"s":"Japan","t":2006.81,"v":0.0},{"s":"Japan","t":2007.01,"v":-0.32},{"s":"Japan","t":2007.15,"v":-0.82},{"s":"Japan","t":2007.32,"v":-0.38},{"s":"Japan","t":2007.52,"v":-1.2},{"s":"Japan","t":2007.68,"v":-0.5},{"s":"Japan","t":2007.81,"v":-0.82},{"s":"Japan","t":2007.95,"v":-1.14},{"s":"Japan","t":2008.08,"v":0.19},{"s":"Japan","t":2008.21,"v":0.88},{"s":"Japan","t":2008.35,"v":0.44},{"s":"Japan","t":2008.55,"v":0.0},{"s":"Japan","t":2008.75,"v":-0.38},{"s":"Japan","t":2008.95,"v":-0.82},{"s":"Japan","t":2009.08,"v":-1.96},{"s":"Japan","t":2009.21,"v":-2.97},{"s":"Japan","t":2009.35,"v":-2.97},{"s":"Japan","t":2009.48,"v":-4.1},{"s":"Japan","t":2009.59,"v":-5.11},{"s":"Japan","t":2009.68,"v":-5.11},{"s":"Japan","t":2009.81,"v":-2.27},{"s":"Japan","t":2009.88,"v":-2.2},{"s":"Japan","t":2009.99,"v":-3.54},{"s":"Japan","t":2010.12,"v":-2.2},{"s":"Japan","t":2010.21,"v":0.44},{"s":"Japan","t":2010.35,"v":0.88},{"s":"Japan","t":2010.55,"v":1.07},{"s":"Japan","t":2010.68,"v":0.76},{"s":"Japan","t":2010.88,"v":0.32},{"s":"Japan","t":2011.08,"v":0.06},{"s":"Japan","t":2011.15,"v":-0.5},{"s":"Japan","t":2011.25,"v":-0.06},{"s":"Japan","t":2011.35,"v":-0.44},{"s":"Japan","t":2011.5,"v":-0.2},{"s":"Japan","t":2011.6,"v":-0.5},{"s":"Japan","t":2011.75,"v":-0.32},{"s":"Japan","t":2011.91,"v":-0.13},{"s":"Japan","t":2012.04,"v":-0.44},{"s":"Japan","t":2012.25,"v":0.32},{"s":"Japan","t":2012.41,"v":-0.5},{"s":"Japan","t":2012.55,"v":-1.14},{"s":"Japan","t":2012.71,"v":-0.82},{"s":"Japan","t":2012.81,"v":-0.82},{"s":"Japan","t":2013.0,"v":-1.26},{"s":"Japan","t":2013.08,"v":-1.14},{"s":"Japan","t":2013.21,"v":-1.07},{"s":"Japan","t":2013.35,"v":-0.82},{"s":"Japan","t":2013.48,"v":-0.44},{"s":"Japan","t":2013.61,"v":-0.19},{"s":"Japan","t":2013.75,"v":-0.82},{"s":"Japan","t":2013.88,"v":-0.38},{"s":"Japan","t":2014.01,"v":-0.06},{"s":"Japan","t":2014.15,"v":-0.32},{"s":"Japan","t":2014.28,"v":0.06},{"s":"Japan","t":2014.39,"v":0.44},{"s":"Japan","t":2014.52,"v":0.63},{"s":"Japan","t":2014.61,"v":1.0},{"s":"Japan","t":2014.71,"v":0.82},{"s":"Japan","t":2014.81,"v":0.44},{"s":"Japan","t":2014.95,"v":0.06},{"s":"Japan","t":2015.05,"v":0.44},{"s":"Japan","t":2015.15,"v":0.32},{"s":"Japan","t":2015.24,"v":0.63},{"s":"Japan","t":2015.35,"v":0.25},{"s":"Japan","t":2015.44,"v":-0.38},{"s":"Japan","t":2015.55,"v":-0.38},{"s":"Japan","t":2015.68,"v":0.63},{"s":"Japan","t":2015.77,"v":0.32},{"s":"Japan","t":2015.88,"v":0.57},{"s":"Japan","t":2016.01,"v":-0.06},{"s":"Japan","t":2016.15,"v":0.76},{"s":"Japan","t":2016.25,"v":0.5},{"s":"Japan","t":2016.35,"v":0.82},{"s":"Japan","t":2016.45,"v":0.44},{"s":"Japan","t":2016.57,"v":0.88},{"s":"Japan","t":2016.68,"v":0.63},{"s":"Japan","t":2016.79,"v":0.0},{"s":"Japan","t":2016.92,"v":0.32},{"s":"Japan","t":2017.05,"v":0.5}
]
},
"vconcat": [
{
"hconcat": [
{
"width": 485, "height": 51,
"data": {"values": [{}]},
"layer": [
{"mark": {"type": "rect", "color": "#8c8378"},
 "encoding": {
  "x": {"datum": 0, "type": "quantitative", "scale": {"domain": [0, 100], "nice": false, "zero": false}, "axis": null},
  "x2": {"datum": 100},
  "y": {"datum": 0, "type": "quantitative", "scale": {"domain": [0, 51], "nice": false, "zero": false}, "axis": null},
  "y2": {"datum": 30}}},
{"mark": {"type": "text", "text": "Domestically driven inflation is not rising outside the US", "align": "left", "baseline": "middle", "color": "#ffffff", "fontSize": 17, "fontWeight": "bold", "font": "Liberation Sans, Arial, sans-serif"},
 "encoding": {
  "x": {"datum": 1.1, "type": "quantitative"},
  "y": {"datum": 15, "type": "quantitative"}}}
]
},
{
"width": 487, "height": 51,
"view": {"fill": "#8c8378", "stroke": null},
"data": {"values": [{}]},
"mark": {"type": "text", "text": ["Wage growth has been gradual despite tightening labour", "markets"], "lineHeight": 21, "align": "left", "baseline": "middle", "color": "#ffffff", "fontSize": 17, "fontWeight": "bold", "font": "Liberation Sans, Arial, sans-serif"},
"encoding": {
 "x": {"datum": 1.45, "type": "quantitative", "scale": {"domain": [0, 100], "nice": false, "zero": false}, "axis": null},
 "y": {"datum": 36, "type": "quantitative", "scale": {"domain": [0, 51], "nice": false, "zero": false}, "axis": null}}
}
],
"spacing": 46,
"bounds": "flush"
},
{
"hconcat": [
{
"width": 485, "height": 384,
"view": {"fill": "#e8e7e5", "stroke": null},
"title": {"text": ["Source: Bloomberg,  Statistics Bureau, JPMAM"], "orient": "bottom", "anchor": "start", "frame": "group", "fontSize": 11, "fontWeight": "normal", "font": "Liberation Sans", "color": "#1a1a1a", "offset": 47},
"layer": [
{"data": {"values": [{}]},
 "mark": {"type": "rule", "color": "#8a8a8a", "strokeWidth": 1},
 "encoding": {
  "x": {"datum": 1997, "type": "quantitative", "scale": {"domain": [1995.458, 2018.121], "nice": false, "zero": false},
        "axis": {"orient": "bottom", "offset": -113.7, "values": [1997,1998,1999,2000,2001,2002,2003,2004,2005,2006,2007,2008,2009,2010,2011,2012,2013,2014,2015,2016,2017], "labels": false, "domain": false, "ticks": true, "tickSize": 4, "grid": false, "title": null}},
  "x2": {"datum": 2017},
  "y": {"datum": 0, "type": "quantitative"}}},
{"data": {"values": [{}]},
 "mark": {"type": "rule", "color": "#8a8a8a", "strokeWidth": 1},
 "encoding": {
  "x": {"datum": 1997, "type": "quantitative", "axis": null},
  "y": {"datum": -2, "type": "quantitative"},
  "y2": {"datum": 6}}},
{"data": {"name": "L"},
 "mark": {"type": "line", "strokeWidth": 2.5, "strokeJoin": "round"},
 "encoding": {
  "x": {"field": "t", "type": "quantitative",
        "axis": {"orient": "bottom", "offset": -24, "values": [1997,1998,1999,2000,2001,2002,2003,2004,2005,2006,2007,2008,2009,2010,2011,2012,2013,2014,2015,2016,2017], "labelExpr": "substring(toString(datum.value), 2, 4)", "domain": false, "ticks": false, "tickSize": 0, "labelPadding": 0, "grid": false, "title": null}},
  "y": {"field": "v", "type": "quantitative", "scale": {"domain": [-2.911, 6.937], "nice": false, "zero": false},
        "axis": {"orient": "left", "offset": -33, "values": [-2,-1,0,1,2,3,4,5,6], "labelExpr": "toString(datum.value)", "domain": false, "ticks": true, "tickSize": 4, "labelPadding": 8, "grid": false, "title": "Services Inflation, % YoY", "titleAngle": 0, "titleAlign": "left", "titleBaseline": "middle", "titleX": -27, "titleY": 15, "titleFontSize": 13, "titleFontWeight": "normal", "titleColor": "#000"}},
  "color": {"field": "s", "type": "nominal", "scale": {"domain": ["US", "EUR", "UK", "Japan"], "range": ["#f59a23", "#1d6f9a", "#5c2d91", "#7b8b34"]},
        "legend": {"orient": "none", "legendX": 404, "legendY": 11, "title": null, "symbolType": "stroke", "symbolStrokeWidth": 3, "symbolSize": 750, "labelFontSize": 13, "labelColor": "#000", "labelOffset": 3, "rowPadding": 3}}}}
],
"resolve": {"axis": {"x": "independent"}}
},
{
"width": 487, "height": 384,
"view": {"fill": "#e8e7e5", "stroke": null},
"title": {"text": ["Source: Bloomberg,  ECB, JPMAM, *US is an average of the Atlanta Fed, AHE for non-", "supervisory workers, ECI wages and salary and non-farm comp per hour; EUR is an average of", "negotiated wages and comp per employee; UK is regular private weekly wages; Japan is", "monthly cash earnings"], "orient": "bottom", "anchor": "start", "frame": "group", "fontSize": 11, "fontWeight": "normal", "font": "Liberation Sans", "color": "#1a1a1a", "offset": 6, "lineHeight": 14},
"layer": [
{"data": {"values": [{}]},
 "mark": {"type": "rule", "color": "#8a8a8a", "strokeWidth": 1},
 "encoding": {
  "x": {"datum": 2000, "type": "quantitative", "scale": {"domain": [1998.6, 2018.08], "nice": false, "zero": false},
        "axis": {"orient": "bottom", "offset": -193.7, "values": [2000,2001,2002,2003,2004,2005,2006,2007,2008,2009,2010,2011,2012,2013,2014,2015,2016,2017], "labels": false, "domain": false, "ticks": true, "tickSize": 4, "grid": false, "title": null}},
  "x2": {"datum": 2017},
  "y": {"datum": 0, "type": "quantitative"}}},
{"data": {"values": [{}]},
 "mark": {"type": "rule", "color": "#8a8a8a", "strokeWidth": 1},
 "encoding": {
  "x": {"datum": 2000, "type": "quantitative", "axis": null},
  "y": {"datum": -6, "type": "quantitative"},
  "y2": {"datum": 6}}},
{"data": {"name": "R"},
 "mark": {"type": "line", "strokeWidth": 2.5, "strokeJoin": "round"},
 "encoding": {
  "x": {"field": "t", "type": "quantitative",
        "axis": {"orient": "bottom", "offset": -24, "values": [2000,2001,2002,2003,2004,2005,2006,2007,2008,2009,2010,2011,2012,2013,2014,2015,2016,2017], "labelExpr": "substring(toString(datum.value), 2, 4)", "domain": false, "ticks": false, "tickSize": 0, "labelPadding": 0, "grid": false, "title": null}},
  "y": {"field": "v", "type": "quantitative", "scale": {"domain": [-7.338, 7.213], "nice": false, "zero": false},
        "axis": {"orient": "left", "offset": -35, "values": [-6,-4,-2,0,2,4,6], "labelExpr": "toString(datum.value)", "domain": false, "ticks": true, "tickSize": 4, "labelPadding": 8, "grid": false, "title": "Various wage measures*, % YoY", "titleAngle": 0, "titleAlign": "left", "titleBaseline": "middle", "titleX": -29, "titleY": 13, "titleFontSize": 13, "titleFontWeight": "normal", "titleColor": "#000"}},
  "color": {"field": "s", "type": "nominal", "scale": {"domain": ["US", "EUR", "UK", "Japan"], "range": ["#f59a23", "#1d6f9a", "#5c2d91", "#7b8b34"]},
        "legend": {"orient": "none", "legendX": 319, "legendY": 11, "title": null, "symbolType": "stroke", "symbolStrokeWidth": 3, "symbolSize": 800, "labelFontSize": 13, "labelColor": "#000", "labelOffset": 3, "rowPadding": 3}}}}
],
"resolve": {"axis": {"x": "independent"}}
}
],
"spacing": 46,
"bounds": "flush",
"resolve": {"scale": {"color": "independent", "x": "independent", "y": "independent"}, "legend": {"color": "independent"}}
}
]
}
